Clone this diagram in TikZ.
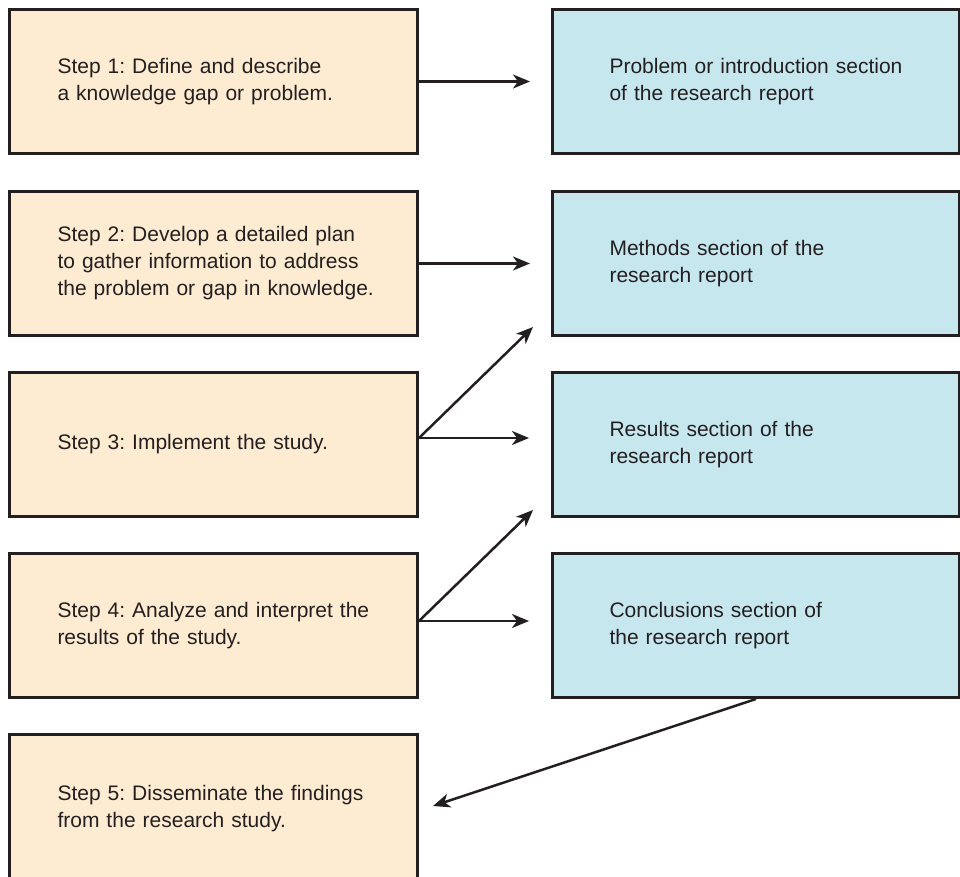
\documentclass[tikz,border=0pt]{standalone}
\usepackage{fontspec}
\setmainfont{Liberation Sans}
\usetikzlibrary{arrows.meta}

\definecolor{stepfill}{RGB}{254,236,210}
\definecolor{partfill}{RGB}{199,231,239}
\definecolor{ink}{RGB}{35,31,32}

\tikzset{
  stepbox/.style={draw=ink,line width=3pt,fill=stepfill,anchor=north west,
    minimum width=408pt,minimum height=144pt,text width=408pt,inner xsep=0pt,
    align=left,text=ink,font=\fontsize{21}{27}\selectfont,
    execute at begin node={\frenchspacing\leftskip=48pt\relax}},
  partbox/.style={stepbox,fill=partfill,minimum width=407pt,text width=407pt,
    execute at begin node={\frenchspacing\leftskip=57pt\relax}},
  arr/.style={-{Stealth[length=17pt,width=14pt,inset=5pt]},line width=2.5pt,draw=ink},
}

\begin{document}
\begin{tikzpicture}[x=1pt,y=-1pt]
  \useasboundingbox (0,0) rectangle (960,877);

  \node (step1) at (8,8) [stepbox]{Step 1: Define and describe\\a knowledge gap or problem.};
  \node (step2) at (8,190) [stepbox]{Step 2: Develop a detailed plan\\to gather information to address\\the problem or gap in knowledge.};
  \node (step3) at (8,371) [stepbox]{Step 3: Implement the study.};
  \node (step4) at (8,552) [stepbox]{Step 4: Analyze and interpret the\\results of the study.};
  \node (step5) at (8,733) [stepbox,minimum height=148pt]{Step 5: Disseminate the findings\\from the research study.};

  \node (intro) at (551,8) [partbox]{Problem or introduction section\\of the research report};
  \node (methods) at (551,190) [partbox]{Methods section of the\\research report};
  \node (results) at (551,371) [partbox]{Results section of the\\research report};
  \node (concl) at (551,552) [partbox]{Conclusions section of\\the research report};

  \coordinate (h3) at (529,438);
  \coordinate (d3) at (533,327);
  \coordinate (h4) at (529,621);
  \coordinate (d4) at (533,510);
  \coordinate (back) at (433,806);

  \draw[arr,shorten >=21pt] (step1) -- (intro);
  \draw[arr,shorten >=21pt] (step2) -- (methods);

  \draw[arr] (step3.east |- h3) -- (h3);
  \draw[arr] (step3.east |- h3) -- (d3);
  \draw[arr] (step4.east |- h4) -- (h4);
  \draw[arr] (step4.east |- h4) -- (d4);

  \draw[arr] (concl.south) -- (back);

\end{tikzpicture}
\end{document}
